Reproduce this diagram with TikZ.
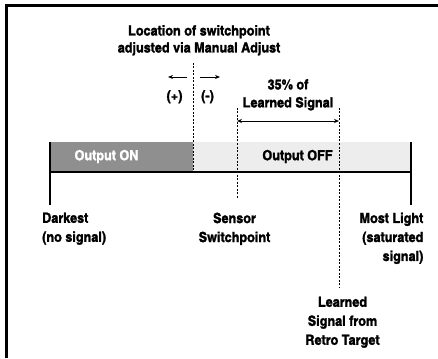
\documentclass[tikz,border=0pt]{standalone}
\usepackage{fontspec}
\newfontfamily\lblfont{texgyreheroscn}[Extension=.otf, UprightFont=*-bold, BoldFont=*-bold, FakeBold=1.6, FakeStretch=1.1]
\usepackage{tikz}
\usetikzlibrary{arrows.meta}
\tikzstyle{lbl} = [font=\lblfont\fontsize{14}{19}\selectfont, inner sep=0pt]
\tikzstyle{dashline} = [line width=0.8pt, dash pattern=on 2pt off 1.5pt]
\tikzstyle{arrow} = [line width=0.8pt,-{Stealth[length=5pt,width=4pt]}]
\tikzstyle{darrow} = [line width=0.8pt,{Stealth[length=5pt,width=4pt]}-{Stealth[length=5pt,width=4pt]}]
\colorlet{ondark}{black!44}
\colorlet{offlight}{black!7}

\begin{document}
\begin{tikzpicture}[x=1pt,y=-1pt]
\useasboundingbox (0,0) rectangle (438,358);
% frame (only top and left edge shown)
\draw[line width=3pt] (6,358) -- (6,6) -- (438,6);

% signal bar
\coordinate (barNW) at (50,142);
\coordinate (barSW) at (50,172);
\coordinate (barNE) at (411,142);
\coordinate (barSE) at (411,172);
\coordinate (swN) at (193,142);
\coordinate (swS) at (193,172);
\fill[ondark] (barNW) rectangle (swS);
\fill[offlight] (swN) rectangle (barSE);
\draw[line width=1.3pt] (barSW) -- (barSE);
\coordinate (leftEnd) at (50,205);
\coordinate (rightEnd) at (411,205);
\draw[line width=1.8pt] (barNW) -- (leftEnd);
\draw[line width=1.8pt] (barNE) -- (rightEnd);

\node[lbl, text=white] (on) at (106.5,156.5) {Output ON};
\node[lbl] (off) at (297.5,156.5) {Output OFF};

% manual adjust
\node[lbl, anchor=north, align=center, font=\lblfont\fontsize{14}{17}\selectfont] (title) at (199,25) {Location of switchpoint\\adjusted via Manual Adjust};
\coordinate (adjTop) at (193,63);
\draw[dashline] (adjTop) -- (swS);
\coordinate (plusA) at (187,77);
\coordinate (plusB) at (168,77);
\coordinate (minusA) at (200,77);
\coordinate (minusB) at (220,77);
\draw[arrow] (plusA) -- (plusB);
\draw[arrow] (minusA) -- (minusB);
\node[lbl, anchor=north] (plus) at (174.5,90) {(+)};
\node[lbl, anchor=north] (minus) at (207.5,90) {(-)};

% sensor switchpoint and learned signal
\coordinate (sensTop) at (237,108);
\coordinate (sensBot) at (237,198);
\coordinate (learnTop) at (339,108);
\coordinate (learnBot) at (339,287);
\draw[dashline] (sensTop) -- (sensBot);
\draw[dashline] (learnTop) -- (learnBot);
\coordinate (pctL) at (237,121);
\coordinate (pctR) at (339,121);
\draw[darrow] (pctL) -- (pctR);
\node[lbl, anchor=north, align=center, font=\lblfont\fontsize{14}{18}\selectfont] (pct) at (288,79) {35\% of\\Learned Signal};

% bottom labels
\node[lbl, anchor=north west, align=left] (darkest) at (42,212.5) {Darkest\\(no signal)};
\node[lbl, anchor=north, align=center] (sensor) at (234.5,212.5) {Sensor\\Switchpoint};
\node[lbl, anchor=north east, align=right] (most) at (423.5,212.5) {Most Light\\(saturated\\signal)};
\node[lbl, anchor=north, align=center] (learned) at (342.5,296.5) {Learned\\Signal from\\Retro Target};
\end{tikzpicture}
\end{document}
